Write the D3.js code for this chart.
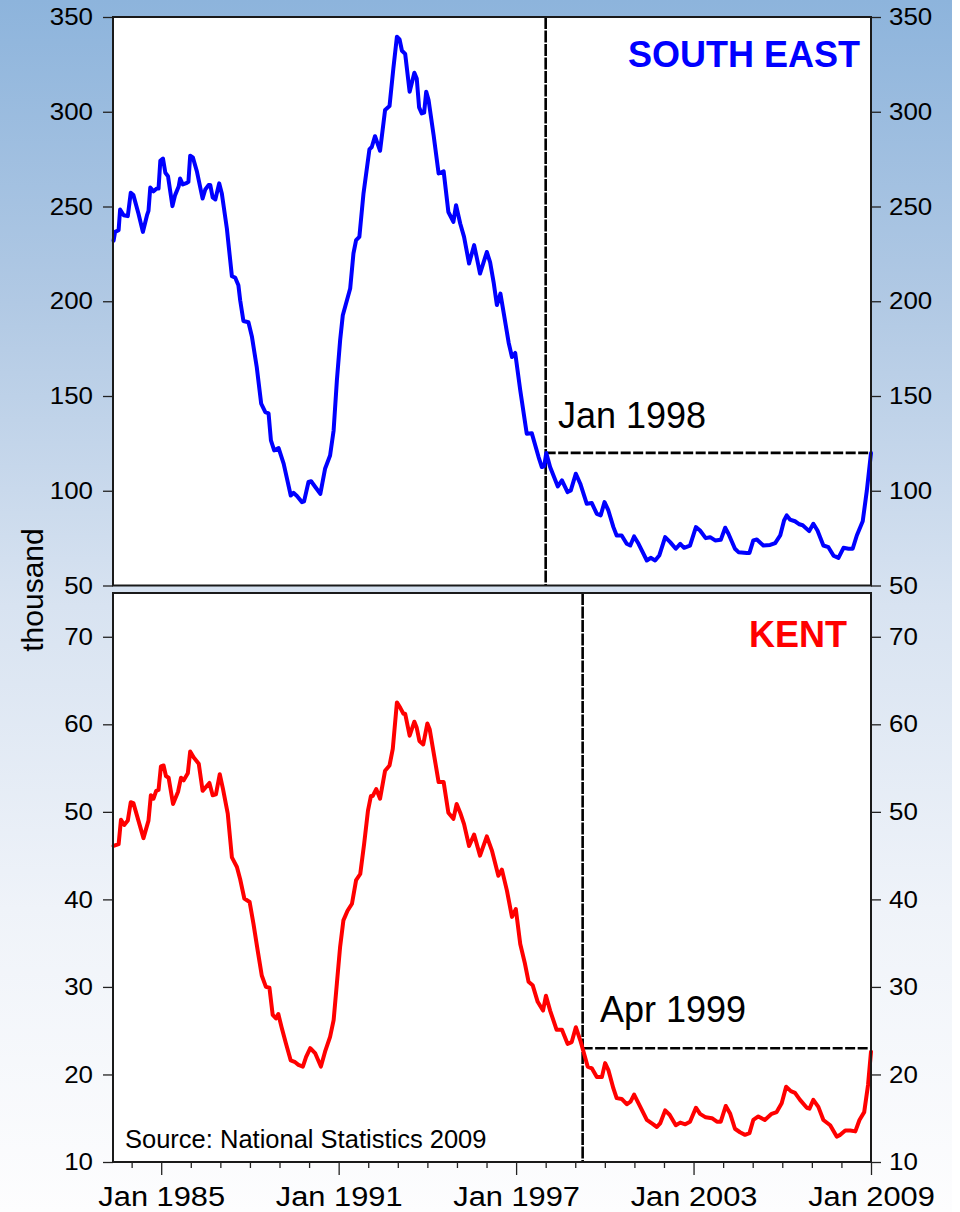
<!DOCTYPE html>
<html>
<head>
<meta charset="utf-8">
<script src="https://cdn.jsdelivr.net/npm/d3@7"></script>
<style>
  html, body { margin: 0; padding: 0; background: #ffffff; }
  svg { display: block; font-family: "Liberation Sans", Arial, sans-serif; }
</style>
</head>
<body>
<svg id="chart" width="960" height="1212"></svg>
<script>
// ---------------- DATA (decimal years / thousand) ----------------
const seDates = [1983.39,1983.44,1983.56,1983.61,1983.73,1983.87,1983.97,1984.06,1984.23,1984.38,1984.52,1984.57,1984.63,1984.74,1984.85,1984.91,1984.97,1985.06,1985.14,1985.23,1985.38,1985.47,1985.59,1985.64,1985.73,1985.87,1985.92,1985.98,1986.07,1986.21,1986.40,1986.49,1986.60,1986.66,1986.74,1986.83,1986.96,1987.05,1987.22,1987.39,1987.50,1987.61,1987.67,1987.78,1987.95,1988.07,1988.23,1988.38,1988.52,1988.63,1988.71,1988.82,1988.97,1989.14,1989.38,1989.47,1989.59,1989.76,1989.83,1989.98,1990.07,1990.21,1990.38,1990.54,1990.71,1990.83,1990.94,1991.05,1991.14,1991.28,1991.39,1991.50,1991.59,1991.70,1991.84,1992.04,1992.12,1992.23,1992.40,1992.57,1992.72,1992.85,1992.97,1993.06,1993.14,1993.25,1993.40,1993.56,1993.64,1993.72,1993.81,1993.89,1993.96,1994.04,1994.21,1994.38,1994.55,1994.71,1994.88,1994.97,1995.11,1995.24,1995.41,1995.58,1995.67,1995.78,1995.90,1996.01,1996.12,1996.24,1996.35,1996.47,1996.60,1996.75,1996.86,1996.97,1997.14,1997.36,1997.53,1997.76,1997.87,1997.95,1998.02,1998.15,1998.41,1998.55,1998.74,1998.85,1999.02,1999.17,1999.39,1999.56,1999.73,1999.86,1999.99,2000.12,2000.29,2000.40,2000.57,2000.74,2000.86,2000.99,2001.14,2001.42,2001.55,2001.70,2001.84,2002.04,2002.21,2002.40,2002.55,2002.68,2002.88,2003.08,2003.22,2003.41,2003.56,2003.73,2003.92,2004.07,2004.18,2004.40,2004.52,2004.80,2004.89,2005.02,2005.14,2005.36,2005.59,2005.76,2005.93,2006.06,2006.15,2006.26,2006.43,2006.58,2006.69,2006.91,2007.05,2007.19,2007.39,2007.56,2007.73,2007.90,2008.07,2008.24,2008.38,2008.52,2008.72,2008.86,2009.00];
const seValues = [232,236.6,237.5,248.4,245.4,244.9,257.2,256,246.3,236.6,245.4,247.7,260,258,259.5,259.5,274.1,275.3,267.8,266,250.2,256,260.5,264.8,261.6,262.5,263,276.8,275.9,268.3,254.2,259,261.3,261.3,254.8,253.7,262.2,256.9,238.4,213.2,212.5,208.4,200.5,189.6,188.9,181.1,165.3,146,141.5,140.8,126.6,121.3,122.5,114.3,97.5,98.9,97.2,94,94.4,104.6,105,102,98.4,111.6,118.6,131.8,158.3,179.4,192.6,200.5,206.7,225.2,232.2,234,256.9,280.1,281.4,287.1,279.4,300.9,303,322.9,339.6,338.2,332.2,330.5,310.6,320.6,317.6,302.3,299.1,299.5,310.6,306.2,287.7,267.4,268.6,247.1,241.9,250.7,241,234,219.9,229.6,223,214.6,220.5,226,220.7,210,198,204,192,178,170.6,172.7,153,130.1,130.4,117.8,112.5,113,119.9,112.5,102.3,105.5,99.3,100.2,109,103.7,93.1,93.5,87.8,87,94,89.6,80.8,76.4,76.4,72,71.1,75.9,72,63.2,64.6,63.2,65.8,75.5,72.9,69.4,72,69.9,71.1,80.8,79,75,75.5,73.8,74.1,80.5,77.3,69.4,67.6,67.2,67.2,73.8,74.3,71.1,71.4,72.4,76.4,84.3,87,84.8,83.9,82.3,81.8,78.7,82.6,79,71.1,70.2,65.8,64.6,69.9,69.4,69.4,76.4,83.9,100.2,119.9];

const kentDates = [1983.39,1983.56,1983.64,1983.75,1983.87,1983.97,1984.06,1984.23,1984.40,1984.57,1984.65,1984.74,1984.83,1984.91,1984.99,1985.08,1985.16,1985.25,1985.40,1985.57,1985.67,1985.76,1985.90,1985.98,1986.10,1986.27,1986.40,1986.63,1986.74,1986.85,1986.98,1987.09,1987.25,1987.39,1987.56,1987.67,1987.81,1987.99,1988.12,1988.26,1988.40,1988.54,1988.66,1988.77,1988.88,1988.96,1989.07,1989.22,1989.38,1989.53,1989.64,1989.79,1989.90,1990.04,1990.21,1990.40,1990.54,1990.71,1990.83,1990.94,1991.05,1991.16,1991.30,1991.45,1991.59,1991.73,1991.86,1991.99,1992.09,1992.15,1992.27,1992.40,1992.57,1992.72,1992.83,1992.97,1993.08,1993.19,1993.25,1993.40,1993.56,1993.64,1993.73,1993.86,1994.00,1994.08,1994.21,1994.38,1994.55,1994.71,1994.88,1994.99,1995.11,1995.24,1995.41,1995.58,1995.78,1996.01,1996.18,1996.40,1996.52,1996.69,1996.86,1996.99,1997.14,1997.29,1997.42,1997.56,1997.73,1997.91,1998.01,1998.15,1998.37,1998.55,1998.74,1998.88,1999.02,1999.17,1999.28,1999.42,1999.56,1999.73,1999.90,2000.01,2000.12,2000.29,2000.40,2000.57,2000.74,2000.87,2000.99,2001.14,2001.42,2001.59,2001.76,2001.87,2002.04,2002.19,2002.40,2002.55,2002.72,2002.88,2003.08,2003.22,2003.41,2003.62,2003.79,2003.92,2004.09,2004.24,2004.40,2004.57,2004.74,2004.89,2005.02,2005.19,2005.41,2005.64,2005.81,2005.98,2006.13,2006.29,2006.43,2006.60,2006.83,2006.92,2007.05,2007.22,2007.39,2007.62,2007.84,2007.96,2008.13,2008.30,2008.47,2008.61,2008.77,2008.90,2009.00];
const kentValues = [46.1,46.3,49.1,48.5,49,51.1,51,49,47,49,51.9,51.5,52.4,52.5,55.2,55.3,54.1,53.9,50.9,52.3,53.9,53.6,54.4,56.9,56.2,55.5,52.4,53.3,51.9,52,54.3,52.6,49.8,44.8,43.7,42.3,40.1,39.7,37.2,34.2,31.3,30,29.9,26.8,26.4,26.9,25.4,23.5,21.6,21.4,21.1,20.9,22,23,22.4,20.9,22.6,24.3,26.2,30.4,34.6,37.6,38.7,39.5,42.2,42.9,46.3,50.1,51.8,51.8,52.6,51.5,54.7,55.3,57.2,62.5,61.9,61.2,61.2,58.7,60.3,59.6,58.1,57.7,60.1,59.4,56.8,53.4,53.4,49.9,49.2,50.9,49.9,48.6,46.1,47.4,45,47.2,45.6,42.7,43.4,41,38,38.9,34.9,32.8,30.6,30.2,28.3,27.3,29,27.3,25.1,25.1,23.5,23.7,25.4,23.9,22.6,20.9,20.7,19.7,19.7,21.3,20.5,18.4,17.3,17.2,16.6,16.9,17.7,16.7,14.8,14.4,14,14.4,15.9,15.4,14.2,14.5,14.3,14.6,16.2,15.5,15.1,15,14.6,14.6,16.4,15.5,13.8,13.4,13.1,13.3,14.8,15.2,14.8,15.5,15.7,16.7,18.6,18.1,17.9,17.1,16.2,16.1,17.1,16.3,14.8,14.2,12.9,13.1,13.6,13.6,13.5,14.8,15.7,18.8,22.6];

const seTicks = [50, 100, 150, 200, 250, 300, 350];
const kentTicks = [10, 20, 30, 40, 50, 60, 70];
const yearTicks = d3.range(1984, 2010);
const majorYears = [1985, 1991, 1997, 2003, 2009];

const seMarker = { date: 1998.0, value: 120, label: "Jan 1998" };
const kentMarker = { date: 1999.25, value: 23, label: "Apr 1999" };
const seTitle = "SOUTH EAST";
const kentTitle = "KENT";
const yLabel = "thousand";
const sourceText = "Source: National Statistics 2009";

// ---------------- LAYOUT ----------------
const svg = d3.select("#chart");
const L = 113, R = 871;
const top1 = 17, bot1 = 585.5;
const top2 = 593, bot2 = 1162;
const FONT = "'Liberation Sans', Arial, sans-serif";

const defs = svg.append("defs");
const grad = defs.append("linearGradient").attr("id", "bg").attr("x1", 0).attr("y1", 0).attr("x2", 0).attr("y2", 1);
[[0, "#8db4dc"], [0.25, "#b1c9e4"], [0.5, "#d8e3f1"], [0.75, "#eff3f9"], [1, "#fdfdfe"]]
  .forEach(([o, c]) => grad.append("stop").attr("offset", o).attr("stop-color", c));

svg.append("rect").attr("x", 0).attr("y", 0).attr("width", 952).attr("height", 1212).attr("fill", "url(#bg)");

const x = d3.scaleLinear().domain([1983.37, 2009.0]).range([L, R]);
const y1 = d3.scaleLinear().domain([50, 350]).range([bot1, top1]);
const y2 = d3.scaleLinear().domain([10, 75]).range([bot2, top2]);

// stretch tick text horizontally (reference text is slightly wide)
function stretchText(sel, sx) {
  sel.each(function () {
    const t = d3.select(this);
    const tx = +t.attr("x") || 0;
    t.attr("x", 0).attr("transform", `translate(${tx},0) scale(${sx},1)`);
  });
}

function panel(yScale, yTop, yBot, ticks, dates, values, color, marker, title, titleX, titleY, labelX, labelY) {
  const g = svg.append("g");
  g.append("rect").attr("x", L).attr("y", yTop).attr("width", R - L).attr("height", yBot - yTop)
    .attr("fill", "#ffffff");

  // left axis
  const la = g.append("g").attr("transform", `translate(${L},0)`)
    .call(d3.axisLeft(yScale).tickValues(ticks).tickSize(10).tickPadding(10));
  la.select(".domain").remove();
  la.selectAll(".tick line").attr("stroke", "#222").attr("stroke-width", 1.3);
  la.selectAll(".tick text").style("font-size", "24px").attr("fill", "#000").style("font-family", FONT);
  stretchText(la.selectAll(".tick text"), 1.08);

  // right axis
  const ra = g.append("g").attr("transform", `translate(${R},0)`)
    .call(d3.axisRight(yScale).tickValues(ticks).tickSize(10).tickPadding(8));
  ra.select(".domain").remove();
  ra.selectAll(".tick line").attr("stroke", "#222").attr("stroke-width", 1.3);
  ra.selectAll(".tick text").style("font-size", "24px").attr("fill", "#000").style("font-family", FONT);
  stretchText(ra.selectAll(".tick text"), 1.08);

  // marker lines
  const mx = x(marker.date), my = yScale(marker.value);
  g.append("line").attr("x1", mx).attr("x2", mx).attr("y1", yTop).attr("y2", yBot)
    .attr("stroke", "#000").attr("stroke-width", 2.6).attr("stroke-dasharray", "12,1.5");
  g.append("line").attr("x1", mx).attr("x2", R).attr("y1", my).attr("y2", my)
    .attr("stroke", "#000").attr("stroke-width", 2.6).attr("stroke-dasharray", "10,2.5");

  // series
  const line = d3.line().x((d, i) => x(dates[i])).y(d => yScale(d));
  g.append("path").datum(values).attr("d", line)
    .attr("fill", "none").attr("stroke", color).attr("stroke-width", 4)
    .attr("stroke-linejoin", "round").attr("stroke-linecap", "round");

  // frame
  g.append("rect").attr("x", L).attr("y", yTop).attr("width", R - L).attr("height", yBot - yTop)
    .attr("fill", "none").attr("stroke", "#1a1a1a").attr("stroke-width", 2);

  // texts
  g.append("text").attr("x", titleX).attr("y", titleY).attr("text-anchor", "end")
    .attr("fill", color).style("font-size", "36px").style("font-weight", "bold").text(title);
  g.append("text").attr("x", labelX).attr("y", labelY)
    .attr("fill", "#000").style("font-size", "36px").text(marker.label);
  return g;
}

panel(y1, top1, bot1, seTicks, seDates, seValues, "#0000ff", seMarker, seTitle, 860, 66.5, 558, 428);
panel(y2, top2, bot2, kentTicks, kentDates, kentValues, "#ff0000", kentMarker, kentTitle, 847, 646.5, 600, 1022);

// x axis (bottom panel)
const xa = svg.append("g").attr("transform", `translate(0,${bot2})`)
  .call(d3.axisBottom(x).tickValues(yearTicks).tickSize(6)
    .tickFormat(d => majorYears.includes(d) ? "Jan " + d : ""));
xa.select(".domain").remove();
xa.selectAll(".tick line").attr("stroke", "#222").attr("stroke-width", 1.3);
xa.selectAll(".tick").filter(d => majorYears.includes(d)).select("line").attr("y2", 13);
xa.selectAll(".tick text").attr("y", 44).attr("dy", 0).attr("fill", "#000")
  .style("font-size", "28px").style("font-family", FONT);
stretchText(xa.selectAll(".tick text"), 1.1);

// y label
svg.append("text").attr("transform", "translate(43,590) rotate(-90)").attr("text-anchor", "middle")
  .style("font-size", "30px").attr("fill", "#000").text(yLabel);

// source
svg.append("text").attr("x", 125).attr("y", 1148).style("font-size", "25.5px").attr("fill", "#000").text(sourceText);
</script>
</body>
</html>
